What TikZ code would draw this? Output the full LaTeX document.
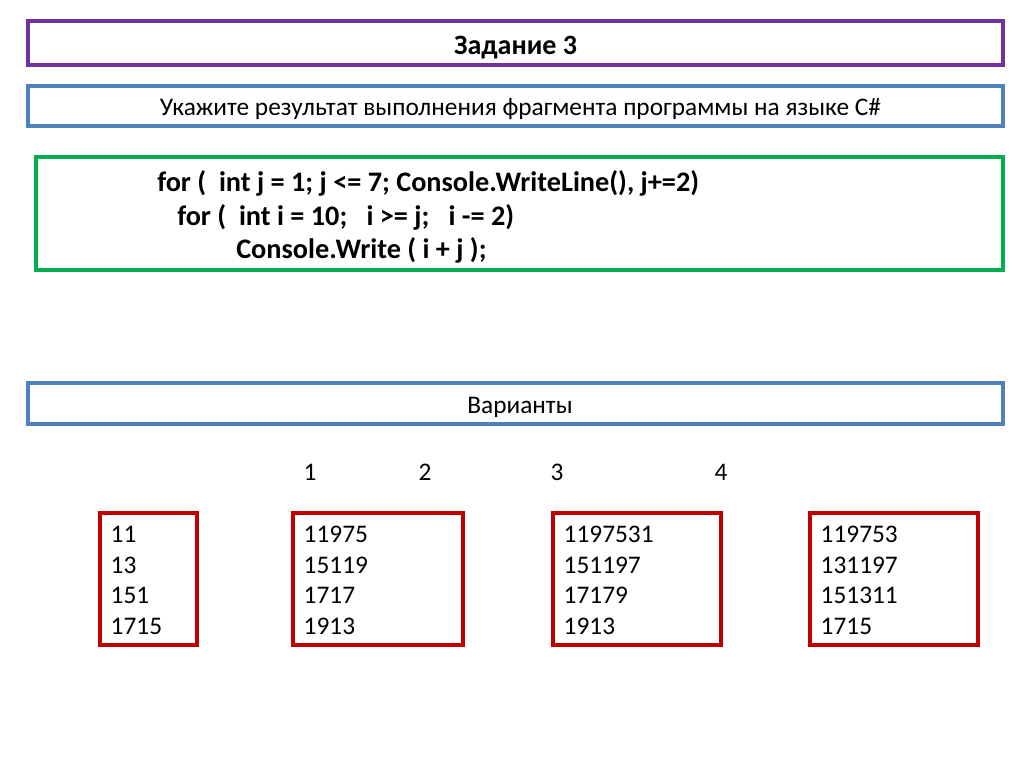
\documentclass[tikz,border=0pt]{standalone}
\usepackage{fontspec}
\setmainfont{Carlito}
\usepackage{tikz}
\usetikzlibrary{calc}
\definecolor{titlepurple}{HTML}{7030A0}
\definecolor{headblue}{HTML}{4F81BD}
\definecolor{codegreen}{HTML}{00B050}
\definecolor{answerred}{HTML}{C00000}

\begin{document}
\begin{tikzpicture}[x=0.75pt, y=-0.75pt,
    frame/.style={draw, line width=2.3pt, inner sep=0pt, minimum width=731.25pt},
    answer/.style={draw=answerred, line width=2.3pt, minimum height=99pt, inner sep=0pt},
    plain/.style={font=\fontsize{19}{23}\selectfont, inner sep=0pt},
    heading/.style={plain, anchor=base},
    code/.style={font=\bfseries\fontsize{21.2}{25}\selectfont, anchor=base west, inner sep=0pt}]
  \useasboundingbox (0,0) rectangle (1024,768);
  \node[frame, draw=titlepurple, minimum height=33pt] (titlebox) at (515.5,43) {};
  \node[heading, font=\bfseries\fontsize{21}{25}\selectfont] (title) at (515.5,54) {Задание 3};
  \node[frame, draw=headblue, minimum height=30pt] (taskbox) at (515.5,106) {};
  \node[heading] (task) at (520.5,115) {Укажите результат выполнения фрагмента программы на языке C\#};
  \node[frame, draw=codegreen, minimum width=725.25pt, minimum height=84.75pt] (listing) at (519.5,213.5) {};
  \node[code] (code1) at (157,191) {for (~ int j = 1; j <= 7; Console.WriteLine(), j+=2)};
  \node[code] (code2) at (177,225) {for (~ int i = 10;~~ i >= j;~~ i -= 2)};
  \node[code] (code3) at (236,258) {Console.Write ( i + j );};
  \node[frame, draw=headblue, minimum height=30.75pt] (variantbox) at (515.5,403.5) {};
  \node[heading] (variants) at (520,413) {Варианты};
  \foreach \x [count=\k] in {310,425,557,721}
    \node[heading] (num\k) at (\x,480) {\k};
  \foreach \x/\w [count=\m] in {148.5/72.75, 378/127.5, 637/126, 894/126}
    \node[answer, minimum width=\w pt] (ans\m) at (\x,579) {};
  \foreach \col [count=\m] in {
      {11,13,151,1715},
      {11975,15119,1717,1913},
      {1197531,151197,17179,1913},
      {119753,131197,151311,1715},
    } {
      \foreach \v [count=\n] in \col {
        \node[plain, anchor=base west] (val\m\n) at ($(ans\m.north west)+(12,31+30.7*\n-30.7)$) {\v};
      }
    }
\end{tikzpicture}
\end{document}
